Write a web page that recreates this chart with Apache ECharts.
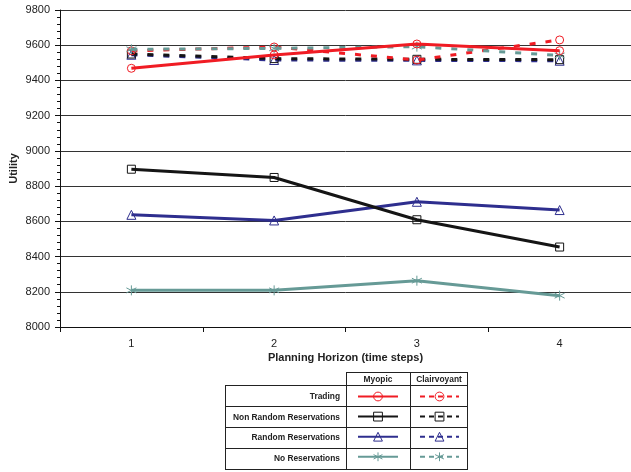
<!DOCTYPE html>
<html>
<head>
<meta charset="utf-8">
<script src="https://cdn.jsdelivr.net/npm/echarts@6/dist/echarts.min.js"></script>
<style>html,body{margin:0;padding:0;background:#fff;}#c{width:631px;height:472px;}</style>
</head>
<body>
<div id="c"></div>
<script>
var categories = ['1', '2', '3', '4'];
var yTicks = { min: 8000, max: 9800, interval: 200 };

var tradingMyopic = [9469, 9545, 9607, 9569];
var tradingClair = [9568, 9590, 9516, 9630];
var nonRandMyopic = [8896, 8849, 8609, 8454];
var nonRandClair = [9550, 9524, 9520, 9518];
var randMyopic = [8637, 8605, 8711, 8664];
var randClair = [9546, 9516, 9514, 9512];
var noResMyopic = [8208, 8208, 8263, 8178];
var noResClair = [9577, 9582, 9592, 9542];

var rowLabels = ['Trading', 'Non Random Reservations', 'Random Reservations', 'No Reservations'];
var colLabels = ['Myopic', 'Clairvoyant'];

var RED = '#f01c24', BLACK = '#151515', NAVY = '#2e2e8e', TEAL = '#669a96';
var FONT = 'Liberation Sans, Arial, sans-serif';
var asterisk = 'path://M0,-5L0,5M-4.33,-2.5L4.33,2.5M-4.33,2.5L4.33,-2.5';

function mk(name, data, color, symbol, dashed, z) {
  return {
    name: name, type: 'line', data: data, z: z,
    symbol: symbol, symbolSize: symbol === 'triangle' ? 9 : (symbol === asterisk ? 10 : 8),
    showSymbol: true,
    lineStyle: { color: color, width: 3, type: dashed ? [6, 10] : 'solid' },
    itemStyle: { color: 'rgba(255,255,255,0)', borderColor: color, borderWidth: 1 },
    emphasis: { disabled: true },
    animation: false
  };
}

var series = [
  mk('Random Reservations Clairvoyant', randClair, NAVY, 'triangle', true, 2),
  mk('Non Random Reservations Clairvoyant', nonRandClair, BLACK, 'rect', true, 3),
  mk('Trading Clairvoyant', tradingClair, RED, 'circle', true, 4),
  mk('No Reservations Clairvoyant', noResClair, TEAL, asterisk, true, 5),
  mk('No Reservations Myopic', noResMyopic, TEAL, asterisk, false, 6),
  mk('Random Reservations Myopic', randMyopic, NAVY, 'triangle', false, 7),
  mk('Non Random Reservations Myopic', nonRandMyopic, BLACK, 'rect', false, 8),
  mk('Trading Myopic', tradingMyopic, RED, 'circle', false, 9)
];

var legendBase = {
  orient: 'vertical', padding: 0, itemWidth: 40, itemHeight: 11, itemGap: 9.7,
  selectedMode: false, formatter: function () { return ''; },
  textStyle: { fontSize: 1 }, top: 391,
  itemStyle: { borderWidth: 1 }
};
var legends = [
  Object.assign({}, legendBase, { left: 357, data: rowLabels.map(function (r) { return { name: r + ' Myopic' }; }) }),
  Object.assign({}, legendBase, { left: 419, itemWidth: 39, data: rowLabels.map(function (r) { return { name: r + ' Clairvoyant', lineStyle: { type: [5, 4] } }; }) })
];

var graphics = [];
var lc = '#222';
function hline(x1, x2, y) { graphics.push({ type: 'line', shape: { x1: x1, y1: y, x2: x2, y2: y }, style: { stroke: lc, lineWidth: 1 } }); }
function vline(x, y1, y2) { graphics.push({ type: 'line', shape: { x1: x, y1: y1, x2: x, y2: y2 }, style: { stroke: lc, lineWidth: 1 } }); }
hline(346, 468, 372.5);
[385.5, 406.5, 427.5, 448.5, 469.5].forEach(function (y) { hline(225, 468, y); });
vline(225.5, 385.5, 469.5);
vline(346.5, 372.5, 469.5);
vline(410.5, 372.5, 469.5);
vline(467.5, 372.5, 469.5);
var colCenters = [378, 439];
colLabels.forEach(function (t, i) {
  graphics.push({ type: 'text', x: colCenters[i], y: 379.5, style: { text: t, font: 'bold 8.4px ' + FONT, fill: '#222', align: 'center', verticalAlign: 'middle' } });
});
rowLabels.forEach(function (t, i) {
  graphics.push({ type: 'text', x: 340, y: 396.5 + i * 20.7, style: { text: t, font: 'bold 8.4px ' + FONT, fill: '#222', align: 'right', verticalAlign: 'middle' } });
});

var chart = echarts.init(document.getElementById('c'), null, { renderer: 'canvas' });
chart.setOption({
  animation: false,
  backgroundColor: '#fff',
  grid: { left: 60, right: 0, top: 10, bottom: 145, containLabel: false, outerBoundsMode: 'none' },
  xAxis: {
    type: 'category', data: categories, boundaryGap: true,
    name: 'Planning Horizon (time steps)', nameLocation: 'middle', nameGap: 25, nameMoveOverlap: false,
    nameTextStyle: { fontFamily: FONT, fontSize: 11, fontWeight: 'bold', color: '#222' },
    axisLine: { lineStyle: { color: '#111', width: 1 } },
    axisTick: { show: true, length: 5, alignWithLabel: false, interval: 0, lineStyle: { color: '#111' } },
    axisLabel: { margin: 11, fontFamily: FONT, fontSize: 11, color: '#222' },
    splitLine: { show: false }
  },
  yAxis: {
    type: 'value', min: yTicks.min, max: yTicks.max, interval: yTicks.interval,
    name: 'Utility', nameLocation: 'middle', nameGap: 41, nameRotate: 90, nameMoveOverlap: false,
    nameTextStyle: { fontFamily: FONT, fontSize: 11, fontWeight: 'bold', color: '#222' },
    axisLine: { show: true, lineStyle: { color: '#111', width: 1 } },
    axisTick: { show: true, length: 5, lineStyle: { color: '#111' } },
    minorTick: { show: true, splitNumber: 5, length: 3, lineStyle: { color: '#111' } },
    axisLabel: { margin: 10, fontFamily: FONT, fontSize: 11, color: '#222', formatter: function (v) { return String(v); } },
    splitLine: { show: true, lineStyle: { color: '#333', width: 1 } }
  },
  legend: legends,
  graphic: graphics,
  series: series
});
</script>
</body>
</html>
